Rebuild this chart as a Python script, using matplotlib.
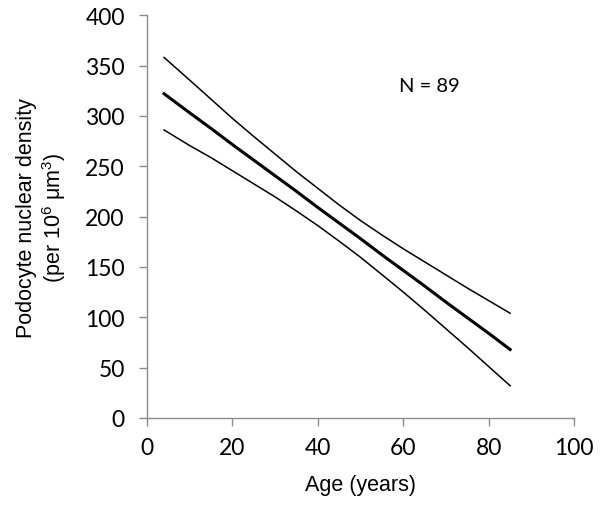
import matplotlib
matplotlib.use('Agg')
import matplotlib.pyplot as plt

# values
age = [4, 10, 15, 20, 25, 30, 35, 40, 45, 50, 55, 60, 65, 70, 75, 80, 85]
fit = [322, 303, 287.5, 271.5, 256, 240.5, 225, 209, 193.5, 178, 162, 146.5, 131,
       115, 99.5, 84, 68]
upper = [358, 335.5, 316.5, 297.5, 279.5, 262, 244.5, 228, 211.5, 196, 181.7, 168,
         155, 142, 129, 116.5, 104]
lower = [286, 270.5, 258.5, 245.5, 232.5, 219.5, 205.5, 191, 175.5, 159.5, 142.3,
         125, 107, 88.5, 70, 51, 32]
xticks = [0, 20, 40, 60, 80, 100]
yticks = [0, 50, 100, 150, 200, 250, 300, 350, 400]

plt.rcParams['mathtext.fontset'] = 'custom'
plt.rcParams['mathtext.rm'] = 'Liberation Sans'
plt.rcParams['mathtext.it'] = 'Liberation Sans'

fig = plt.figure(figsize=(6, 5.06), dpi=100)
ax = fig.add_axes([0.245, 0.172, 0.712, 0.796])

ax.plot(age, upper, color='black', lw=1.1)
ax.plot(age, fit, color='black', lw=2.2)
ax.plot(age, lower, color='black', lw=1.1)

ax.set_xlim(0, 100)
ax.set_ylim(0, 400)
ax.set_xticks(xticks)
ax.set_yticks(yticks)

for s in ['top', 'right']:
  ax.spines[s].set_visible(False)
for s in ['left', 'bottom']:
  ax.spines[s].set_color('#8c8c8c')
  ax.spines[s].set_linewidth(1.0)
ax.tick_params(direction='out', length=6, width=1.0, color='#8c8c8c',
               labelsize=16.5)
ax.tick_params(axis='y', pad=10)
ax.tick_params(axis='x', pad=8)
for lab in ax.get_xticklabels() + ax.get_yticklabels():
  lab.set_family('Lato')

ax.set_xlabel('Age (years)', fontsize=15.5, family='Liberation Sans', labelpad=11)
ax.set_ylabel('Podocyte nuclear density\n(per 10$^6$ \u03bcm$^3$)', fontsize=15.5,
              family='Liberation Sans', labelpad=12, linespacing=1.15)

ax.text(66, 330, 'N = 89', fontsize=14.5, family='Lato', ha='center', va='center')

fig.savefig('out.png', dpi=100)
